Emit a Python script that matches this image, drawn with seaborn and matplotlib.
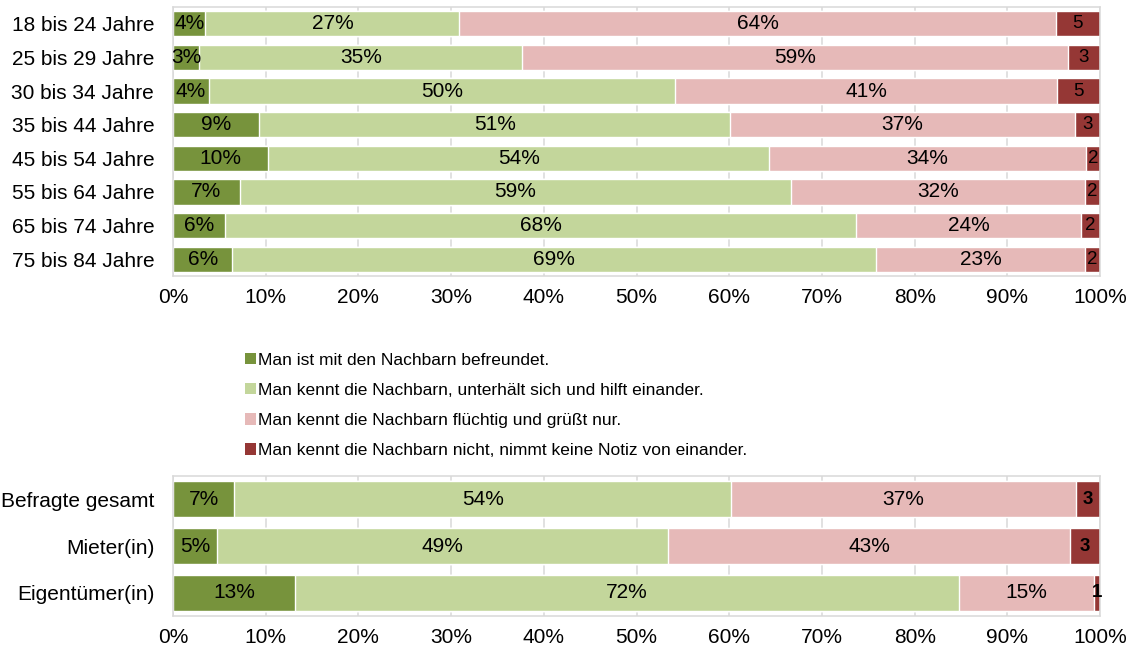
import matplotlib
matplotlib.use('Agg')
import matplotlib.pyplot as plt
import matplotlib.patches as mpatches
import numpy as np
import seaborn as sns

# age groups (top panel)
age_groups = ["18 bis 24 Jahre", "25 bis 29 Jahre", "30 bis 34 Jahre", "35 bis 44 Jahre",
              "45 bis 54 Jahre", "55 bis 64 Jahre", "65 bis 74 Jahre", "75 bis 84 Jahre"]
age_friends = [3.5, 2.8, 3.9, 9.3, 10.3, 7.2, 5.6, 6.4]
age_help = [27.4, 34.9, 50.2, 50.8, 54.0, 59.5, 68.1, 69.4]
age_greet = [64.3, 58.8, 41.3, 37.2, 34.2, 31.7, 24.2, 22.6]
age_none = [4.8, 3.5, 4.6, 2.7, 1.5, 1.6, 2.1, 1.6]
age_labels = [
    ["4%", "3%", "4%", "9%", "10%", "7%", "6%", "6%"],
    ["27%", "35%", "50%", "51%", "54%", "59%", "68%", "69%"],
    ["64%", "59%", "41%", "37%", "34%", "32%", "24%", "23%"],
    ["5", "3", "5", "3", "2", "2", "2", "2"],
]

# housing status (bottom panel)
groups = ["Befragte gesamt", "Mieter(in)", "Eigentümer(in)"]
grp_friends = [6.6, 4.8, 13.2]
grp_help = [53.6, 48.6, 71.6]
grp_greet = [37.2, 43.4, 14.6]
grp_none = [2.6, 3.2, 0.6]
grp_labels = [
    ["7%", "5%", "13%"],
    ["54%", "49%", "72%"],
    ["37%", "43%", "15%"],
    ["3", "3", "1"],
]

series_names = ["Man ist mit den Nachbarn befreundet.",
                "Man kennt die Nachbarn, unterhält sich und hilft einander.",
                "Man kennt die Nachbarn flüchtig und grüßt nur.",
                "Man kennt die Nachbarn nicht, nimmt keine Notiz von einander."]
colors = ["#77933C", "#C3D69B", "#E6B9B8", "#953735"]
xticks = [0, 10, 20, 30, 40, 50, 60, 70, 80, 90, 100]

sns.set_style("white")
plt.rcParams['font.family'] = ['Liberation Sans', 'DejaVu Sans']
plt.rcParams['text.color'] = 'black'

GRID = "#D9D9D9"
FS = 15


def stacked_panel(ax, cats, series, labels, bar_width, last_bold):
    vals = np.array(series, dtype=float)
    cum = np.cumsum(vals, axis=0)
    # draw from the longest stack to the shortest so each segment shows
    for i in reversed(range(len(series))):
        sns.barplot(x=cum[i], y=cats, orient="h", color=colors[i], saturation=1,
                    width=bar_width, ax=ax, zorder=2)
    starts = cum - vals
    for i in range(len(series)):
        for j in range(len(cats)):
            cx = starts[i, j] + vals[i, j] / 2
            if i == 3:
                ax.text(cx, j, labels[i][j], ha="center", va="center", fontsize=13.5,
                        fontweight="bold" if last_bold else "normal", zorder=3)
            else:
                ax.text(cx, j, labels[i][j], ha="center", va="center", fontsize=FS, zorder=3)

    ax.set_xlim(0, 100)
    ax.set_ylim(len(cats) - 0.5, -0.5)
    ax.set_xticks(xticks)
    ax.set_xticklabels([f"{v}%" for v in xticks], fontsize=FS)
    ax.set_xlabel("")
    ax.set_ylabel("")
    ax.set_yticks(range(len(cats)))
    ax.set_yticklabels(cats, fontsize=FS)
    ax.set_yticks(np.arange(len(cats) + 1) - 0.5, minor=True)
    ax.tick_params(axis="y", which="major", length=0, pad=13.5, labelcolor="black")
    ax.tick_params(axis="y", which="minor", length=4.5, color=GRID, width=1.1)
    ax.tick_params(axis="x", length=4, color=GRID, width=1.1, pad=5, labelcolor="black")
    ax.set_axisbelow(True)
    ax.xaxis.grid(True, color=GRID, linewidth=1.1, zorder=0)
    ax.yaxis.grid(False)
    for sp in ax.spines.values():
        sp.set_visible(True)
        sp.set_color(GRID)
        sp.set_linewidth(1.1)


fig = plt.figure(figsize=(11.35, 6.48), dpi=100)
ax_top = fig.add_axes([0.1524, 0.5741, 0.8168, 0.4151])
ax_bot = fig.add_axes([0.1524, 0.0494, 0.8168, 0.2160])

stacked_panel(ax_top, age_groups, [age_friends, age_help, age_greet, age_none],
              age_labels, 0.75, False)
stacked_panel(ax_bot, groups, [grp_friends, grp_help, grp_greet, grp_none],
              grp_labels, 0.77, True)

handles = [mpatches.Patch(facecolor=c, edgecolor="none") for c in colors]
fig.legend(handles, series_names, loc="upper left", bbox_to_anchor=(0.2155, 0.456),
           frameon=False, fontsize=12.5, handlelength=0.65, handleheight=0.65,
           handletextpad=0.15, labelspacing=0.88, borderpad=0, borderaxespad=0)

fig.savefig("out.png", dpi=100)
plt.close(fig)
